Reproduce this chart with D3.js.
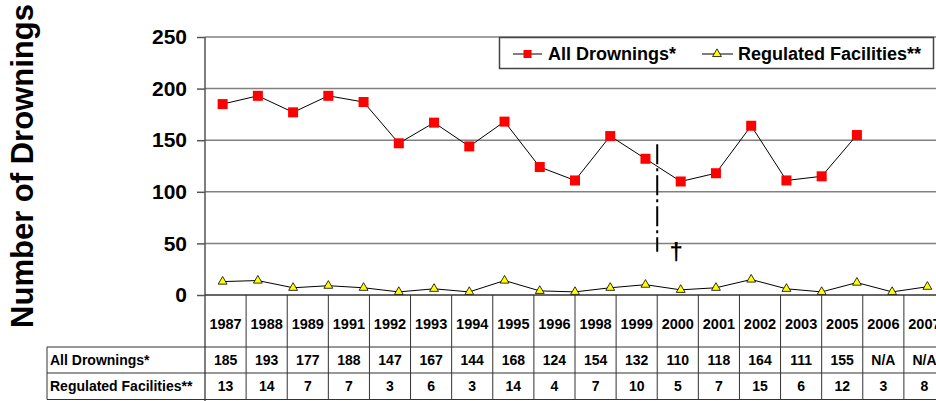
<!DOCTYPE html>
<html>
<head>
<meta charset="utf-8">
<script src="https://cdn.jsdelivr.net/npm/d3@7"></script>
<style>
  body { margin: 0; background: #fff; }
  svg { display: block; font-family: "Liberation Sans", Arial, sans-serif; font-weight: bold; }
</style>
</head>
<body>
<div id="chart"></div>
<script>
// plotted series (one point per year, 1987-2007)
var plot_years = ["1987","1988","1989","1990","1991","1992","1993","1994","1995","1996","1997",
                  "1998","1999","2000","2001","2002","2003","2004","2005","2006","2007"]
var all_drownings = [185,193,177,193,187,147,167,144,168,124,111,154,132,110,118,164,111,115,155,null,null]
var regulated = [13,14,7,9,7,3,6,3,14,4,3,7,10,5,7,15,6,3,12,3,8]

// data table under the chart
var table_years = ["1987","1988","1989","1991","1992","1993","1994","1995","1996","1998","1999",
                   "2000","2001","2002","2003","2005","2006","2007"]
var table_all = ["185","193","177","188","147","167","144","168","124","154","132","110","118","164","111","155","N/A","N/A"]
var table_reg = ["13","14","7","7","3","6","3","14","4","7","10","5","7","15","6","12","3","8"]

var y_ticks = [0, 50, 100, 150, 200, 250]

var WIDTH = 936, HEIGHT = 401
var PLOT = {LEFT: 205, RIGHT: 945, TOP: 37, BOTTOM: 295}

const svg = d3.select("#chart").append("svg")
  .attr("width", WIDTH)
  .attr("height", HEIGHT)

var x = d3.scaleBand().domain(plot_years).range([PLOT.LEFT, PLOT.RIGHT])
var x_table = d3.scaleBand().domain(table_years).range([PLOT.LEFT, PLOT.RIGHT])
var y = d3.scaleLinear().domain([0, 250]).range([PLOT.BOTTOM, PLOT.TOP])

var cx = function(yr) { return x(yr) + x.bandwidth()/2 }

// gridlines
svg.append("g")
  .selectAll("line")
  .data(y_ticks.filter(d => d > 0))
  .join("line")
  .attr("x1", PLOT.LEFT)
  .attr("x2", WIDTH)
  .attr("y1", d => y(d))
  .attr("y2", d => y(d))
  .attr("stroke", "#808080")
  .attr("stroke-width", 1.5)

// y axis
var y_axis = svg.append("g")
  .attr("transform", `translate(${PLOT.LEFT},0)`)
  .call(d3.axisLeft(y).tickValues(y_ticks).tickSize(8).tickSizeOuter(0).tickPadding(10))
y_axis.select(".domain").remove()
y_axis.selectAll(".tick line").attr("stroke", "#555").attr("stroke-width", 1.5)
y_axis.selectAll(".tick text")
  .style("font-size", "21px")
  .style("font-weight", "bold")
  .attr("fill", "#000")
  .attr("font-family", null)

// y title
svg.append("text")
  .attr("transform", "translate(33,166) rotate(-90)")
  .attr("text-anchor", "middle")
  .style("font-size", "31px")
  .text("Number of Drownings")

// regulated facilities series
svg.append("path")
  .datum(regulated)
  .attr("fill", "none")
  .attr("stroke", "#000")
  .attr("stroke-width", 1)
  .attr("d", d3.line().x((d, i) => cx(plot_years[i])).y(d => y(d)))

// all drownings series
svg.append("path")
  .datum(all_drownings)
  .attr("fill", "none")
  .attr("stroke", "#000")
  .attr("stroke-width", 1)
  .attr("d", d3.line().defined(d => d != null).x((d, i) => cx(plot_years[i])).y(d => y(d)))

var tri = d3.symbol().type(d3.symbolTriangle).size(34)

svg.append("g")
  .selectAll("path")
  .data(regulated)
  .join("path")
  .attr("d", tri)
  .attr("transform", (d, i) => `translate(${cx(plot_years[i])},${y(d)})`)
  .attr("fill", "#ffff00")
  .attr("stroke", "#000")
  .attr("stroke-width", 0.8)

svg.append("g")
  .selectAll("rect")
  .data(all_drownings.map((d, i) => [plot_years[i], d]).filter(d => d[1] != null))
  .join("rect")
  .attr("x", d => cx(d[0]) - 5)
  .attr("y", d => y(d[1]) - 5)
  .attr("width", 10)
  .attr("height", 10)
  .attr("fill", "#ff0000")

// axes lines
svg.append("line")
  .attr("x1", PLOT.LEFT).attr("x2", PLOT.LEFT)
  .attr("y1", PLOT.TOP).attr("y2", HEIGHT)
  .attr("stroke", "#555").attr("stroke-width", 1.5)
svg.append("line")
  .attr("x1", PLOT.LEFT).attr("x2", WIDTH)
  .attr("y1", PLOT.BOTTOM).attr("y2", PLOT.BOTTOM)
  .attr("stroke", "#333").attr("stroke-width", 1.5)

// dash-dot marker between 1999 and 2000
var mark_x = x_table("2000")
svg.append("line")
  .attr("x1", mark_x).attr("x2", mark_x)
  .attr("y1", y(146)).attr("y2", y(42))
  .attr("stroke", "#000")
  .attr("stroke-width", 2)
  .attr("stroke-dasharray", "20,4,3,4")
svg.append("text")
  .attr("x", mark_x + 19)
  .attr("y", y(43) + 9)
  .attr("text-anchor", "middle")
  .style("font-size", "24px")
  .text("\u2020")

// legend
var legend = svg.append("g")
legend.append("rect")
  .attr("x", 499.5).attr("y", 37.5)
  .attr("width", 434).attr("height", 31)
  .attr("fill", "#fff")
  .attr("stroke", "#444")
  .attr("stroke-width", 1.5)
legend.append("line").attr("x1", 513).attr("x2", 542).attr("y1", 54).attr("y2", 54).attr("stroke", "#000")
legend.append("rect").attr("x", 523.5).attr("y", 50).attr("width", 8).attr("height", 8).attr("fill", "#ff0000")
legend.append("text").attr("x", 548).attr("y", 60).style("font-size", "18px").text("All Drownings*")
legend.append("line").attr("x1", 702).attr("x2", 733).attr("y1", 54).attr("y2", 54).attr("stroke", "#000")
legend.append("path").attr("d", tri).attr("transform", "translate(717,54)")
  .attr("fill", "#ffff00").attr("stroke", "#000").attr("stroke-width", 0.8)
legend.append("text").attr("x", 738).attr("y", 60).style("font-size", "18px").text("Regulated Facilities**")

// data table
var ROW = {Y0: 295, Y1: 347, Y2: 373, Y3: 399.5}
var table = svg.append("g").attr("stroke", "#333").attr("stroke-width", 1)

// vertical dividers
table.selectAll("line.div")
  .data(table_years.slice(1).concat(["end"]))
  .join("line")
  .attr("class", "div")
  .attr("x1", d => d == "end" ? PLOT.RIGHT : x_table(d))
  .attr("x2", d => d == "end" ? PLOT.RIGHT : x_table(d))
  .attr("y1", ROW.Y0)
  .attr("y2", ROW.Y3)
table.append("line").attr("x1", 47).attr("x2", 47).attr("y1", ROW.Y1).attr("y2", ROW.Y3)
;[ROW.Y1, ROW.Y2, ROW.Y3].forEach(function(r) {
  table.append("line").attr("x1", 47).attr("x2", WIDTH).attr("y1", r).attr("y2", r)
})

var cell_x = d => x_table(d) + x_table.bandwidth()/2

svg.append("g").selectAll("text")
  .data(table_years)
  .join("text")
  .attr("x", d => cell_x(d))
  .attr("y", 329)
  .attr("text-anchor", "middle")
  .style("font-size", "14.5px")
  .text(d => d)

svg.append("g").selectAll("text")
  .data(table_all)
  .join("text")
  .attr("x", (d, i) => cell_x(table_years[i]))
  .attr("y", 365)
  .attr("text-anchor", "middle")
  .style("font-size", "14px")
  .text(d => d)

svg.append("g").selectAll("text")
  .data(table_reg)
  .join("text")
  .attr("x", (d, i) => cell_x(table_years[i]))
  .attr("y", 391)
  .attr("text-anchor", "middle")
  .style("font-size", "14px")
  .text(d => d)

svg.append("text").attr("x", 50).attr("y", 365).style("font-size", "14px").text("All Drownings*")
svg.append("text").attr("x", 50).attr("y", 391).style("font-size", "14px").text("Regulated Facilities**")
</script>
</body>
</html>
